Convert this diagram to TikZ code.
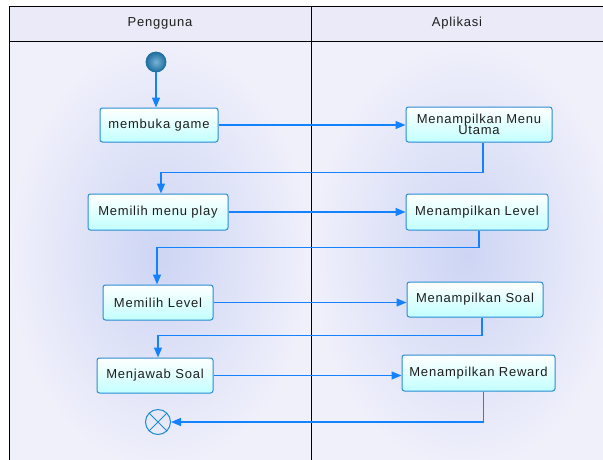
\documentclass[tikz,border=0pt]{standalone}
\usepackage{fontspec}
\setmainfont{Liberation Sans}[LetterSpace=6]
\usetikzlibrary{arrows.meta,shapes.misc}
\definecolor{flowblue}{RGB}{20,130,255}
\definecolor{boxborder}{RGB}{40,140,210}
\definecolor{boxfill}{RGB}{195,255,255}
\definecolor{lanein}{RGB}{205,213,244}
\definecolor{laneout}{RGB}{240,240,251}
\definecolor{headfill}{RGB}{234,234,248}
\definecolor{txt}{RGB}{30,30,30}
\definecolor{startin}{RGB}{120,180,215}
\definecolor{startout}{RGB}{30,110,160}
\definecolor{endborder}{RGB}{30,140,210}
\begin{document}
\begin{tikzpicture}[x=1pt,y=-1pt,
  act/.style={draw=boxborder,line width=1pt,rounded corners=2.5pt,
    top color=white,bottom color=boxfill,text=txt,
    font=\fontsize{13}{13.5}\selectfont,align=center,inner sep=2pt},
  flow/.style={draw=flowblue,line width=1.3pt,-{Triangle[length=10pt,width=8pt]}},
  lane/.style={draw=black,line width=0.8pt},
  head/.style={font=\fontsize{13}{14}\selectfont,text=txt}]
\useasboundingbox (0,0) rectangle (603,459);
\fill[white] (0,0) rectangle (603,459);
% lanes
\shade[inner color=lanein,outer color=laneout] (9,41) rectangle (311,470);
\shade[inner color=lanein,outer color=laneout] (311,41) rectangle (620,470);
\fill[headfill] (9,6) rectangle (620,41);
\draw[lane] (9,470) -- (9,6) -- (620,6);
\draw[lane] (9,41) -- (620,41);
\draw[lane] (311,6) -- (311,470);
\node[head] (hp) at (160,23) {Pengguna};
\node[head] (ha) at (457,23) {Aplikasi};
% start / end
\node[circle,draw=startout,line width=0.8pt,inner color=startin,outer color=startout,
  minimum size=20pt,inner sep=0pt] (start) at (156,62) {};
\node[draw=endborder,fill=white,line width=1pt,cross out,minimum size=17pt,inner sep=0pt] (endx) at (158,422) {};
\node[circle,draw=endborder,line width=1pt,minimum size=25pt,inner sep=0pt] (end) at (158,422) {};
% activities
\node[act,minimum width=118pt,minimum height=34pt] (b1) at (159,125) {membuka game};
\node[act,minimum width=146pt,minimum height=35pt] (a1) at (479,124.5) {Menampilkan Menu\\[-2pt]Utama};
\node[act,minimum width=140pt,minimum height=36pt] (b2) at (158,212) {Memilih menu play};
\node[act,minimum width=142pt,minimum height=36pt] (a2) at (477,212) {Menampilkan Level};
\node[act,minimum width=110pt,minimum height=35pt] (b3) at (158,302.5) {Memilih Level};
\node[act,minimum width=136pt,minimum height=35pt] (a3) at (475,299.5) {Menampilkan Soal};
\node[act,minimum width=116pt,minimum height=35pt] (b4) at (155,375.5) {Menjawab Soal};
\node[act,minimum width=153pt,minimum height=36pt] (a4) at (478.5,373) {Menampilkan Reward};
% flows
\draw[flow] (start.south) -- (start.south |- b1.north);
\draw[flow] (b1.east) -- (b1.east -| a1.west);
\draw[flow] ([xshift=4pt]a1.south) -- ++(0,30) -| ([xshift=3pt]b2.north);
\draw[flow] (b2.east) -- (b2.east -| a2.west);
\draw[flow] ([xshift=2pt]a2.south) -- ++(0,17) -| ([xshift=-1pt]b3.north);
\draw[flow] (b3.east) -- (b3.east -| a3.west);
\draw[flow] ([xshift=7pt]a3.south) -- ++(0,18) -| ([xshift=3pt]b4.north);
\draw[flow] (b4.east) -- (b4.east -| a4.west);
\draw[flow] ([xshift=5pt]a4.south) |- (end.east);
\end{tikzpicture}
\end{document}
